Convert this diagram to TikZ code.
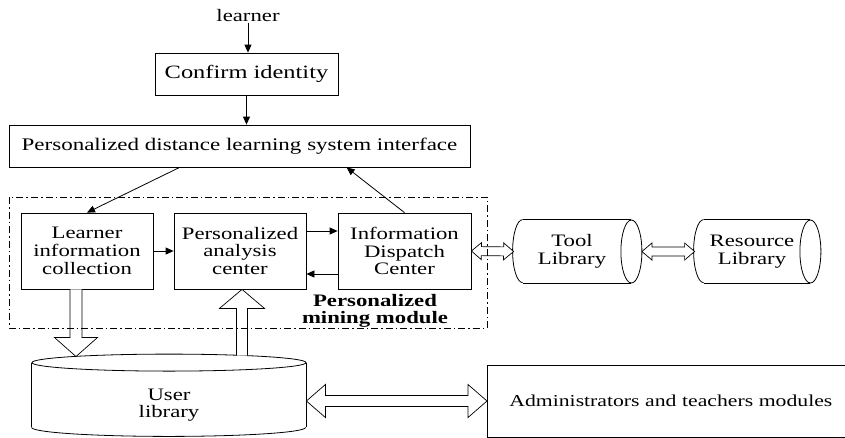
\documentclass[tikz,border=0pt]{standalone}
\usepackage{fontspec}
\setmainfont{Liberation Serif}[FakeStretch=1.3]
\usetikzlibrary{arrows.meta,calc}

% hollow block arrow with one head: from, to, shaft half width, head half width, head length
\newcommand\fatone[5]{%
  \draw[fat] let \p1=(#1), \p2=(#2),
      \n1={atan2(\y2-\y1,\x2-\x1)}, \n2={veclen(\x2-\x1,\y2-\y1)} in
    ($(\p1)+(\n1+90:#3pt)$)
    -- ($(\p1)+(\n1:{(\n2-#5)*1pt})+(\n1+90:#3pt)$)
    -- ($(\p1)+(\n1:{(\n2-#5)*1pt})+(\n1+90:#4pt)$)
    -- (\p2)
    -- ($(\p1)+(\n1:{(\n2-#5)*1pt})+(\n1-90:#4pt)$)
    -- ($(\p1)+(\n1:{(\n2-#5)*1pt})+(\n1-90:#3pt)$)
    -- ($(\p1)+(\n1-90:#3pt)$);}
% hollow block arrow with heads at both ends
\newcommand\fattwo[5]{%
  \draw[fat] let \p1=(#1), \p2=(#2),
      \n1={atan2(\y2-\y1,\x2-\x1)}, \n2={veclen(\x2-\x1,\y2-\y1)} in
    (\p1)
    -- ($(\p1)+(\n1:#5pt)+(\n1+90:#4pt)$)
    -- ($(\p1)+(\n1:#5pt)+(\n1+90:#3pt)$)
    -- ($(\p1)+(\n1:{(\n2-#5)*1pt})+(\n1+90:#3pt)$)
    -- ($(\p1)+(\n1:{(\n2-#5)*1pt})+(\n1+90:#4pt)$)
    -- (\p2)
    -- ($(\p1)+(\n1:{(\n2-#5)*1pt})+(\n1-90:#4pt)$)
    -- ($(\p1)+(\n1:{(\n2-#5)*1pt})+(\n1-90:#3pt)$)
    -- ($(\p1)+(\n1:#5pt)+(\n1-90:#3pt)$)
    -- ($(\p1)+(\n1:#5pt)+(\n1-90:#4pt)$)
    -- cycle;}

\begin{document}
\begin{tikzpicture}[x=1pt,y=-1pt,
  font=\fontsize{17.5}{17.7}\selectfont,
  line width=0.8pt,
  box/.style={draw, align=center, inner sep=0pt},
  plain/.style={align=center, inner sep=0pt},
  link/.style={-{Triangle[length=8pt,width=7pt]}},
  fat/.style={line width=0.7pt, fill=white, line join=miter},
  frame/.style={line width=0.6pt, dash pattern=on 7pt off 3pt on 1.5pt off 3pt}]
\useasboundingbox (0,0) rectangle (845,437);

% top of the flow
\node[plain] (lrn) at (248,16) {learner};
\node[box, minimum width=183, minimum height=42, font=\fontsize{18.8}{19}\selectfont]
  (conf) at (246.5,74) {Confirm identity};
\node[box, minimum width=461, minimum height=42, font=\fontsize{17.7}{18}\selectfont]
  (intf) at (239.5,146) {Personalized distance learning system interface};

% mining module
\node[box, minimum width=132, minimum height=76] (lic) at (87,251)
  {Learner\\information\\collection};
\node[box, minimum width=132, minimum height=76] (pac) at (240,251)
  {Personalized\\analysis\\center};
\node[box, minimum width=133, minimum height=76] (idc) at (404.5,251)
  {Information\\Dispatch\\Center};
\node[plain, font=\fontsize{17.5}{17.7}\selectfont\bfseries] (modlbl) at (375,311)
  {Personalized\\mining module};

% libraries drawn as horizontal cylinders
\node[plain, minimum width=108, minimum height=63] (tool) at (577,251.5) {};
\node[plain, minimum width=106, minimum height=63] (res) at (757,251.5) {};
\node[plain] (tooltx) at ($(tool)+(-5,0)$) {Tool\\Library};
\node[plain] (restx) at ($(res)+(-5,0)$) {Resource\\Library};
\foreach \c in {tool,res}{
  \draw (\c.north west) -- (\c.north east) (\c.south west) -- (\c.south east);
  \draw (\c.east) ellipse [x radius=10.5, y radius=31.5];
  \draw (\c.north west) arc [start angle=270, end angle=90, x radius=10, y radius=31.5];
}

% user library as an upright cylinder
\node[plain, minimum width=274, minimum height=84] (ulib) at (169,405) {User\\library};
\coordinate (ubl) at ($(ulib.south west)+(0,-20)$);
\coordinate (ubr) at ($(ulib.south east)+(0,-20)$);
\draw (ulib.north) ellipse [x radius=137, y radius=8.5];
\draw (ulib.north west) -- (ubl) (ulib.north east) -- (ubr);
\draw (ubl) arc [start angle=180, end angle=0, x radius=137, y radius=9];

% administrators and teachers
\node[draw, minimum height=72, text width=350, align=left, inner xsep=22, inner ysep=0pt,
  anchor=west, font=\fontsize{16.7}{17}\selectfont] (adm) at (487,401)
  {Administrators and teachers modules};

% plain connectors
\draw[link] (lrn.south) -- (lrn.south |- conf.north);
\draw[link] (conf.south) -- (conf.south |- intf.north);
\coordinate (ilo) at ($(intf.south west)+(171,0)$);
\coordinate (ihi) at ($(intf.south west)+(338,0)$);
\draw[link] (ilo) -- (lic.north);
\draw[link] (idc.north) -- (ihi);
\draw[link] (lic.east) -- (pac.west);
\draw[link] ($(pac.east)+(0,-20)$) -- ($(idc.west)+(0,-20)$);
\draw[link] ($(idc.west)+(0,23)$) -- ($(pac.east)+(0,23)$);

% block arrows
\coordinate (dnS) at ($(lic.south)+(-11,0)$);
\coordinate (dnE) at (76,356.5);
\fatone{dnS}{dnE}{6}{21.5}{19}
\coordinate (upS) at (242,355.5);
\fatone{upS}{upS |- pac.south}{5.5}{22.5}{19}
\coordinate (tl) at ($(tool.west)+(-9,0)$);
\coordinate (tr) at ($(tool.east)+(10.5,0)$);
\coordinate (rl) at ($(res.west)+(-9,0)$);
\fattwo{idc.east}{tl}{4.5}{8.5}{10}
\fattwo{tr}{rl}{4.5}{8.5}{10}
\fattwo{ulib.east |- adm.west}{adm.west}{5.5}{16.5}{19}

% dash-dotted boundary of the mining module
\draw[frame] (9,197) rectangle (487,328);
\end{tikzpicture}
\end{document}
